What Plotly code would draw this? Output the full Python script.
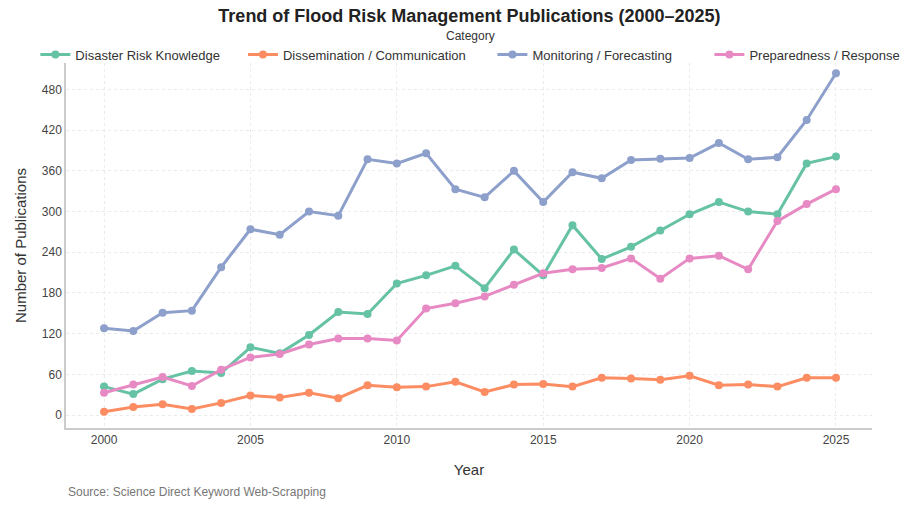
import plotly.graph_objects as go

years = list(range(2000, 2026))
disaster_risk_knowledge = [42, 31, 53, 65, 62, 100, 91, 118, 152, 149, 194, 206, 220, 187, 244, 206, 280, 230, 248, 272, 296, 314, 300, 296, 371, 381]
dissemination_communication = [5, 12, 16, 9, 18, 29, 26, 33, 25, 44, 41, 42, 49, 34, 45, 46, 42, 55, 54, 52, 58, 44, 45, 42, 55, 55]
monitoring_forecasting = [128, 124, 151, 154, 218, 274, 266, 300, 294, 377, 371, 386, 333, 321, 360, 314, 358, 349, 376, 378, 379, 401, 377, 380, 435, 504]
preparedness_response = [33, 45, 56, 43, 67, 85, 90, 104, 113, 113, 110, 157, 165, 175, 192, 209, 215, 217, 231, 201, 231, 235, 215, 286, 311, 333]

series_names = ["Disaster Risk Knowledge", "Dissemination / Communication", "Monitoring / Forecasting", "Preparedness / Response"]
series_values = [disaster_risk_knowledge, dissemination_communication, monitoring_forecasting, preparedness_response]
colors = ["#66c2a5", "#fc8d62", "#8da0cb", "#e78ac3"]

y_ticks = [0, 60, 120, 180, 240, 300, 360, 420, 480]
x_ticks = [2000, 2005, 2010, 2015, 2020, 2025]

font_family = "Liberation Sans, Arial, sans-serif"
pads = [5, 6, 9, 0]  # trailing non-breaking spaces to widen legend gaps

fig = go.Figure()
for name, vals, col, p in zip(series_names, series_values, colors, pads):
    fig.add_trace(go.Scatter(
        x=years, y=vals, name=name + "\u00a0" * p, mode="lines+markers",
        line=dict(color=col, width=3),
        marker=dict(color=col, size=8),
    ))

fig.update_layout(
    width=908, height=508,
    margin=dict(l=66, r=36, t=63, b=80),
    paper_bgcolor="white", plot_bgcolor="white",
    font=dict(family=font_family, color="#333333"),
    title=dict(
        text="<b>Trend of Flood Risk Management Publications (2000–2025)</b>",
        x=0.517, xanchor="center", xref="container",
        y=0.97, yanchor="middle", yref="container",
        font=dict(size=18, color="#222222"),
    ),
    legend=dict(
        orientation="h",
        x=-0.038, xanchor="left", xref="paper",
        y=1.107, yanchor="top", yref="paper",
        title=dict(text="Category", side="top center", font=dict(size=12, color="#333333")),
        font=dict(size=13, color="#333333"),
        bgcolor="rgba(0,0,0,0)",
        itemwidth=30,
    ),
    xaxis=dict(
        title=dict(text="Year", font=dict(size=15, color="#333333"), standoff=18),
        range=[1998.7, 2026.23],
        tickvals=x_ticks,
        tickfont=dict(size=12, color="#444444"),
        showgrid=True, gridcolor="#ebebeb", griddash="3px,3px", gridwidth=1,
        showline=True, linecolor="#cccccc", linewidth=1.5,
        zeroline=False, ticks="",
    ),
    yaxis=dict(
        title=dict(text="Number of Publications", font=dict(size=15, color="#333333"), standoff=12),
        range=[-19, 519],
        tickvals=y_ticks,
        tickfont=dict(size=12, color="#444444"),
        showgrid=True, gridcolor="#ebebeb", griddash="3px,3px", gridwidth=1,
        showline=True, linecolor="#cccccc", linewidth=1.5,
        zeroline=False, ticks="",
    ),
    annotations=[dict(
        text="Source: Science Direct Keyword Web-Scrapping",
        xref="paper", yref="paper", x=0, y=-0.175, xanchor="left", yanchor="middle",
        showarrow=False, font=dict(size=12, color="#777777"),
    )],
)

fig.write_html("out.html")
